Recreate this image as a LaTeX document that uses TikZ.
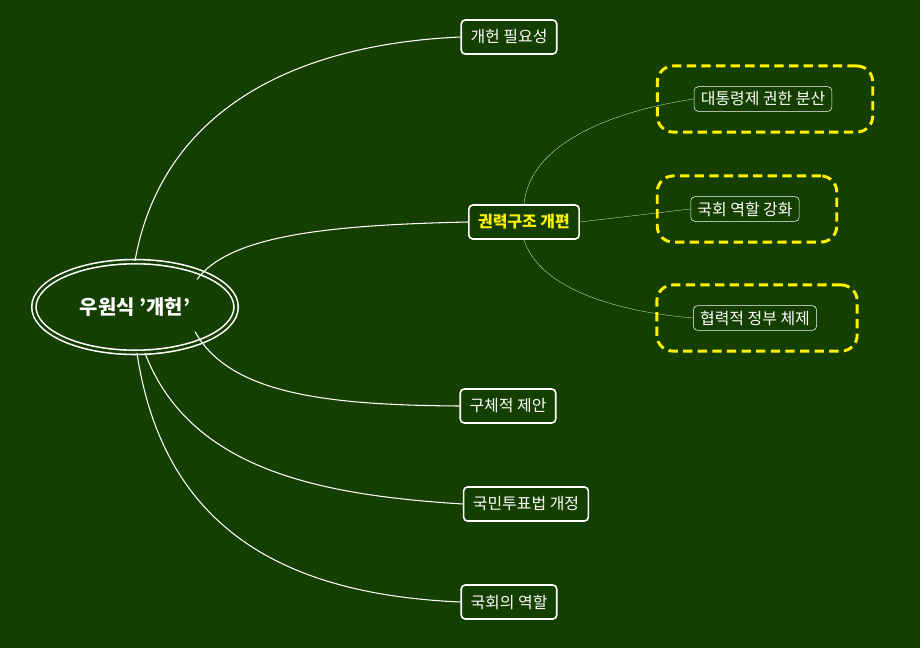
\documentclass[tikz,border=0pt]{standalone}
\usepackage{fontspec}
\setmainfont{Noto Sans CJK KR}
\usetikzlibrary{positioning,calc,shapes.geometric}
\definecolor{bgGreen}{HTML}{143F00}
\definecolor{markYellow}{HTML}{FFF200}
\tikzset{
  topic/.style={draw=white, very thick, rounded corners=3pt, fill=bgGreen, text=white,
    font=\fontsize{12}{14}\selectfont, inner xsep=7pt, minimum height=0.9cm},
  leaf/.style={draw=white, thin, rounded corners=3pt, fill=bgGreen, text=white,
    font=\fontsize{12}{14}\selectfont, inner xsep=5pt, minimum height=0.65cm},
  halo/.style={draw=markYellow, line width=2.2pt, dash pattern=on 7pt off 4pt, rounded corners=12pt,
    minimum height=1.75cm},
  branch/.style={white, thick},
  twig/.style={white, very thin}
}
\begin{document}
\begin{tikzpicture}[x=0.02646cm,y=-0.02646cm]
\fill[bgGreen] (0,0) rectangle (920,648);
\useasboundingbox (0,0) rectangle (920,648);

% === centre ===
\node[ellipse, draw=white, double=bgGreen, double distance=2pt, line width=1.2pt, minimum width=5.35cm, minimum height=2.4cm,
  text=white, font=\bfseries\fontsize{15}{18}\selectfont] (root) at (135,307) {우원식 '개헌'};

% === main topics ===
\node[topic] (need) at (509,37) {개헌 필요성};
\node[topic, text=markYellow, font=\bfseries\fontsize{12}{14}\selectfont] (power) at (524,222) {권력구조 개편};
\node[topic] (plan) at (508,406) {구체적 제안};
\node[topic] (vote) at (526,504) {국민투표법 개정};
\node[topic] (assembly) at (509,602) {국회의 역할};

% === sub topics ===
\node[halo, minimum width=5.7cm] (h1) at (765,99) {};
\node[leaf] (split) at (763,99) {대통령제 권한 분산};
\node[halo, minimum width=4.75cm] (h2) at (747,209) {};
\node[leaf] (role) at (745,209) {국회 역할 강화};
\node[halo, minimum width=5.3cm] (h3) at (757,318) {};
\node[leaf] (coop) at (755,318) {협력적 정부 체제};

% === connectors ===
\draw[branch] (root.north) .. controls (160,120) and (280,45) .. (need.west);
\draw[branch] ($(root.north east)+(-10,5)$) .. controls (230,235) and (330,225) .. (power.west);
\draw[branch] ($(root.south east)+(-12,-8)$) .. controls (230,395) and (330,405) .. (plan.west);
\draw[branch] ($(root.south)+(10,0)$) .. controls (190,470) and (320,495) .. (vote.west);
\draw[branch] ($(root.south)+(2,0)$) .. controls (165,540) and (300,595) .. (assembly.west);

\draw[twig] (power.north) .. controls (530,140) and (620,110) .. (split.west);
\draw[twig] (power.east) -- (role.west);
\draw[twig] (power.south) .. controls (540,290) and (620,312) .. (coop.west);
\end{tikzpicture}
\end{document}
